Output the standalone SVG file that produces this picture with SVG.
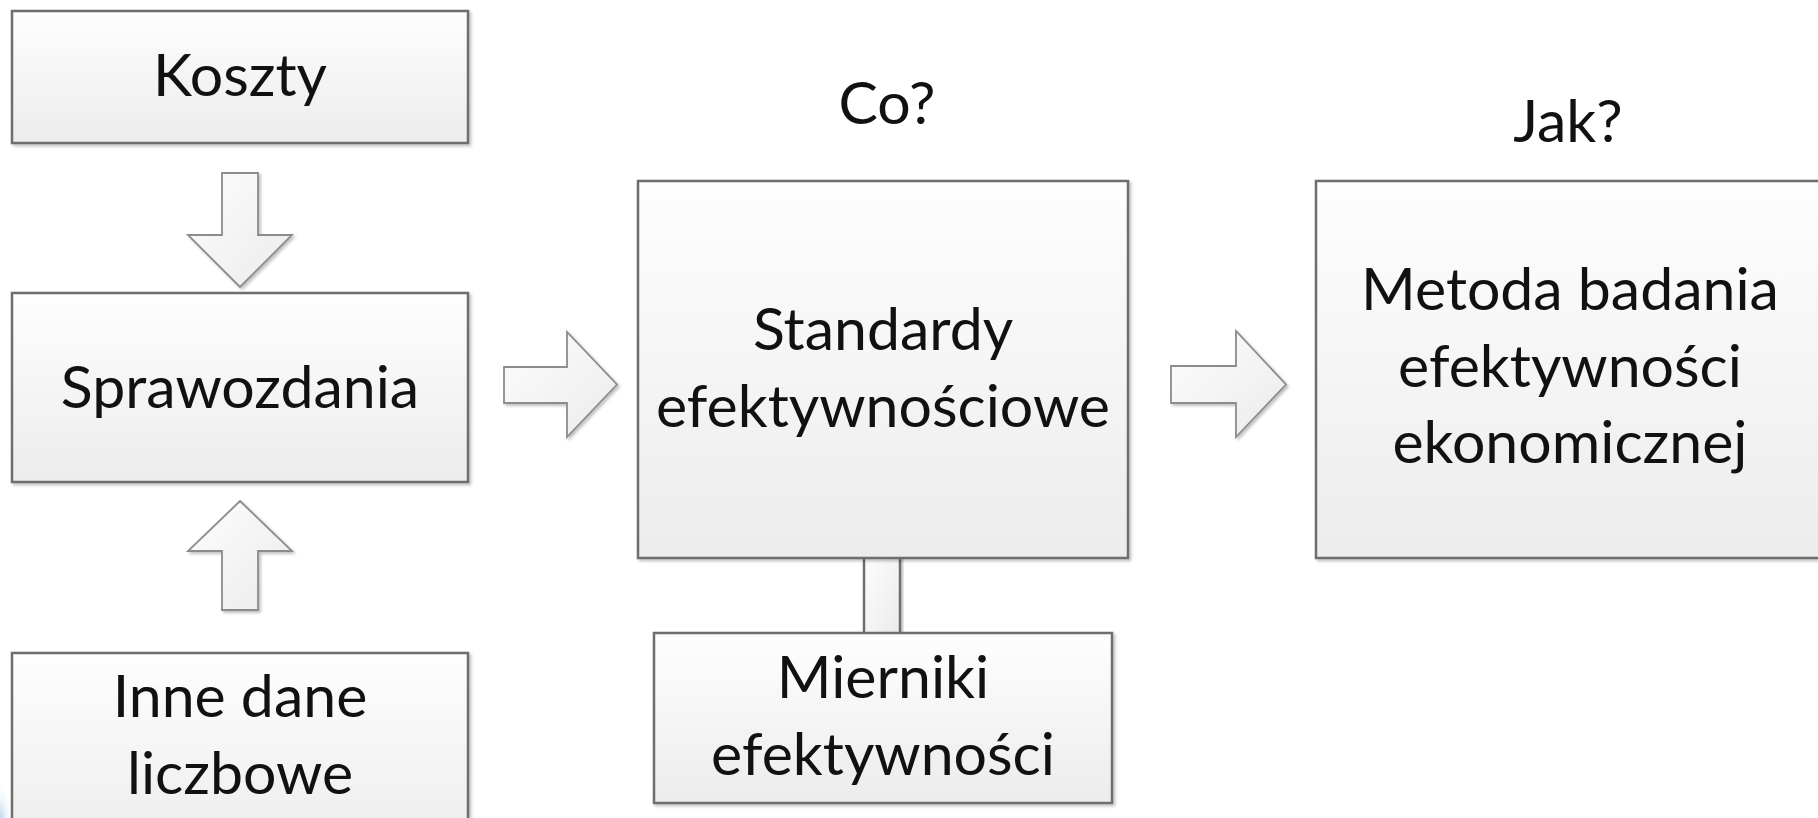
<svg xmlns="http://www.w3.org/2000/svg" width="1818" height="818" viewBox="0 0 1818 818">
  <defs>
    <linearGradient id="boxFill" x1="0" y1="0" x2="0" y2="1">
      <stop offset="0" stop-color="#fefefe"/>
      <stop offset="1" stop-color="#ececec"/>
    </linearGradient>
    <linearGradient id="arrowFill" x1="0" y1="0" x2="1" y2="1">
      <stop offset="0" stop-color="#fdfdfd"/>
      <stop offset="1" stop-color="#ebebeb"/>
    </linearGradient>
    <radialGradient id="blueGlow" cx="0" cy="1" r="1">
      <stop offset="0" stop-color="#b9d9ee"/>
      <stop offset="1" stop-color="#ffffff" stop-opacity="0"/>
    </radialGradient>
    <filter id="shadow" x="-5%" y="-5%" width="115%" height="115%">
      <feGaussianBlur in="SourceAlpha" stdDeviation="1.5"/>
      <feOffset dx="2" dy="2" result="b"/>
      <feComponentTransfer><feFuncA type="linear" slope="0.25"/></feComponentTransfer>
      <feMerge><feMergeNode/><feMergeNode in="SourceGraphic"/></feMerge>
    </filter>
  </defs>
  <style>
    .box { fill: url(#boxFill); stroke: #6e6e6e; stroke-width: 2.5; filter: url(#shadow); }
    .arr { fill: url(#arrowFill); stroke: #8c8c8c; stroke-width: 1.8; stroke-linejoin: miter; filter: url(#shadow); }
    .t { font-family: Lato, "Open Sans", "Liberation Sans", sans-serif; font-size: 59px; fill: #111111; text-anchor: middle; }
  </style>
  <rect x="0" y="0" width="1818" height="818" fill="#ffffff"/>
  <path d="M0,780 Q8,800 14,818 L0,818 Z" fill="url(#blueGlow)"/>

  <g id="connectors">
    <polygon class="arr" points="222,173 258,173 258,235 292,235 240,287 188,235 222,235"/>
    <polygon class="arr" points="240,501 292,551 258,551 258,610 222,610 222,551 188,551"/>
    <polygon class="arr" points="504,367 567,367 567,332 617,384.5 567,437 567,403 504,403"/>
    <polygon class="arr" points="1171,366 1236,366 1236,331 1286,384.5 1236,437 1236,403 1171,403"/>
    <rect class="arr" x="864" y="556" width="36" height="79" style="stroke:#6e6e6e;stroke-width:2.5"/>
  </g>

  <g id="label-co"><text class="t" x="887" y="124">Co?</text></g>
  <g id="label-jak"><text class="t" x="1568" y="142">Jak?</text></g>

  <g id="koszty">
    <rect class="box" x="12" y="11" width="456" height="132"/>
    <text class="t" x="240" y="96">Koszty</text>
  </g>
  <g id="sprawozdania">
    <rect class="box" x="12" y="293" width="456" height="189"/>
    <text class="t" x="240" y="408">Sprawozdania</text>
  </g>
  <g id="inne-dane">
    <rect class="box" x="12" y="653" width="456" height="200"/>
    <text class="t" x="240" y="717">Inne dane</text>
    <text class="t" x="240" y="794">liczbowe</text>
  </g>
  <g id="standardy">
    <rect class="box" x="638" y="181" width="490" height="377"/>
    <text class="t" x="883" y="350">Standardy</text>
    <text class="t" x="883" y="427">efektywnościowe</text>
  </g>
  <g id="mierniki">
    <rect class="box" x="654" y="633" width="458" height="170"/>
    <text class="t" x="883" y="698">Mierniki</text>
    <text class="t" x="883" y="775">efektywności</text>
  </g>
  <g id="metoda">
    <rect class="box" x="1316" y="181" width="508" height="377"/>
    <text class="t" x="1570" y="310">Metoda badania</text>
    <text class="t" x="1570" y="387">efektywności</text>
    <text class="t" x="1570" y="463">ekonomicznej</text>
  </g>
</svg>
